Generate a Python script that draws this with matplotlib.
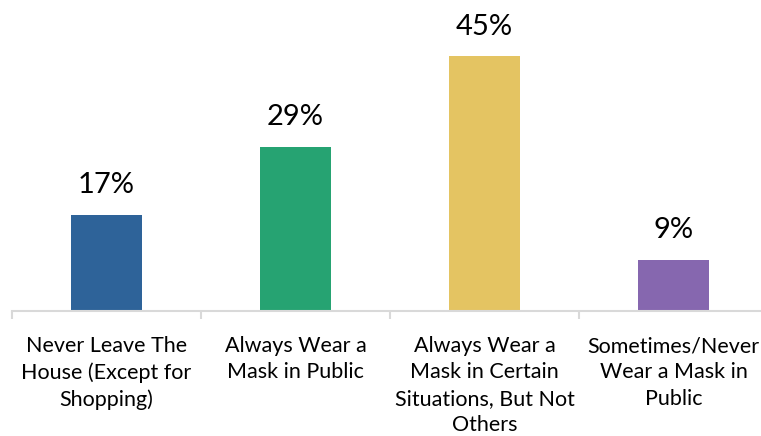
import matplotlib.pyplot as plt

# Chart data
categories = [
    "Never Leave The\nHouse (Except for\nShopping)",
    "Always Wear a\nMask in Public",
    "Always Wear a\nMask in Certain\nSituations, But Not\nOthers",
    "Sometimes/Never\nWear a Mask in\nPublic",
]
values = [17, 29, 45, 9]
colors = ["#2E6399", "#26A372", "#E4C462", "#8667AF"]

plt.rcParams["font.family"] = ["Lato", "DejaVu Sans"]

fig = plt.figure(figsize=(7.61, 4.36), dpi=100)
ax = fig.add_axes([12 / 761, 125 / 436, 756 / 761, 283 / 436])

x = range(len(values))
bars = ax.bar(x, values, width=0.376, color=colors)

# Value labels above each bar
for bar, v in zip(bars, values):
    ax.annotate(f"{v}%", (bar.get_x() + bar.get_width() / 2, v),
                xytext=(0, 12), textcoords="offset points",
                ha="center", va="bottom", fontsize=21, color="black",
                annotation_clip=False)

ax.set_xlim(-0.5, 3.5)
ax.set_ylim(0, 50)

# Only the bottom axis line, light grey, with category separators
for side in ["top", "left", "right"]:
    ax.spines[side].set_visible(False)
ax.spines["bottom"].set_color("#d9d9d9")
ax.spines["bottom"].set_linewidth(1.5)
ax.set_yticks([])

ax.set_xticks([i - 0.5 for i in range(len(values) + 1)], minor=True)
ax.tick_params(axis="x", which="minor", length=6, width=1.5, color="#d9d9d9")
ax.set_xticks(list(x))
ax.set_xticklabels(categories, fontsize=15.5, linespacing=1.4)
ax.tick_params(axis="x", which="major", length=0, pad=18)

fig.savefig("out.png", dpi=100)
